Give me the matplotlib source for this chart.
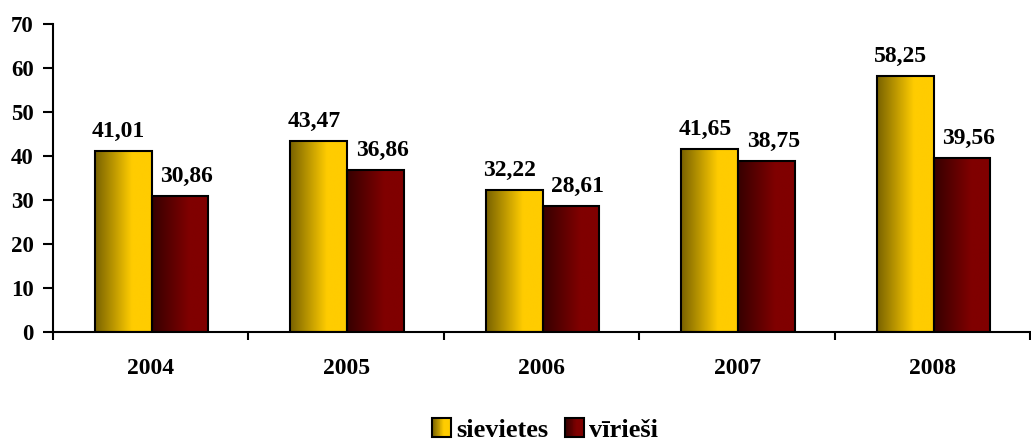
import numpy as np
import matplotlib
matplotlib.use("Agg")
import matplotlib.pyplot as plt
from matplotlib.colors import LinearSegmentedColormap
from matplotlib.patches import Rectangle
from matplotlib.legend_handler import HandlerBase

years = ["2004", "2005", "2006", "2007", "2008"]
sievietes = [41.01, 43.47, 32.22, 41.65, 58.25]
virieshi = [30.86, 36.86, 28.61, 38.75, 39.56]
labels = ["sievietes", "vīrieši"]

plt.rcParams["font.family"] = ["Liberation Serif", "DejaVu Serif"]
plt.rcParams["font.weight"] = "bold"

cmap_y = LinearSegmentedColormap.from_list("y", [(0, "#786200"), (0.65, "#ffcc00"), (1, "#ffcc00")])
cmap_r = LinearSegmentedColormap.from_list("r", [(0, "#360000"), (0.65, "#800000"), (1, "#800000")])
grad = np.linspace(0, 1, 256).reshape(1, -1)

fig = plt.figure(figsize=(10.31, 4.41), dpi=100)
ax = fig.add_axes([0.0514, 0.247, 0.948, 0.699])

x = np.arange(len(years))
w = 0.29


def grad_bars(xs, vals, cmap):
    bars = ax.bar(xs, vals, w, facecolor="none", edgecolor="black", linewidth=1.5, zorder=3)
    for b in bars:
        im = ax.imshow(grad, cmap=cmap, aspect="auto", zorder=2,
                       extent=[b.get_x(), b.get_x() + b.get_width(), 0, b.get_height()])
        im.set_clip_path(b)
    return bars


b1 = grad_bars(x - w / 2 + 0.005, sievietes, cmap_y)
b2 = grad_bars(x + w / 2 + 0.005, virieshi, cmap_r)

# labels sit a bit apart from the bar centres, like the original
for xs, vals in [(x - w / 2 - 0.02, sievietes), (x + w / 2 + 0.04, virieshi)]:
    for xi, v in zip(xs, vals):
        ax.text(xi, v + 3.2, f"{v:.2f}".replace(".", ","), ha="center", va="baseline",
                fontsize=17, fontweight="bold")

ax.set_xlim(-0.5, 4.5)
ax.set_ylim(0, 70)
ax.set_yticks(range(0, 71, 10))
ax.set_xticks(x)
ax.set_xticklabels(years)
ax.set_xticks(np.arange(-0.5, 4.6, 1), minor=True)
ax.tick_params(axis="x", which="major", length=0, pad=19, labelsize=17)
ax.tick_params(axis="x", which="minor", length=6, width=1.5, direction="out")
ax.tick_params(axis="y", length=7, width=1.5, labelsize=16.5, pad=7)
for lab in ax.get_xticklabels() + ax.get_yticklabels():
    lab.set_fontweight("bold")
for s in ["top", "right"]:
    ax.spines[s].set_visible(False)
for s in ["left", "bottom"]:
    ax.spines[s].set_linewidth(1.5)


class GradHandler(HandlerBase):
    def __init__(self, cmap):
        super().__init__()
        self.cmap = cmap

    def create_artists(self, legend, orig, xd, yd, width, height, fontsize, trans):
        size = height * 1.0
        x0 = xd + width - size
        y0 = yd - (size - height) / 2
        arts = []
        n = 20
        for i in range(n):
            r = Rectangle((x0 + size * i / n, y0), size / n + 0.3, size,
                          facecolor=self.cmap(i / (n - 1)), edgecolor="none", transform=trans)
            arts.append(r)
        arts.append(Rectangle((x0, y0), size, size, facecolor="none", edgecolor="black",
                              linewidth=1.5, transform=trans))
        return arts


h1 = Rectangle((0, 0), 1, 1)
h2 = Rectangle((0, 0), 1, 1)
fig.legend([h1, h2], labels, loc="center", bbox_to_anchor=(0.528, 0.025), ncol=2,
           frameon=False, handler_map={h1: GradHandler(cmap_y), h2: GradHandler(cmap_r)},
           prop={"size": 19, "weight": "bold"}, handlelength=0.75, handletextpad=0.2,
           columnspacing=0.6)

fig.savefig("out.png", dpi=100)
